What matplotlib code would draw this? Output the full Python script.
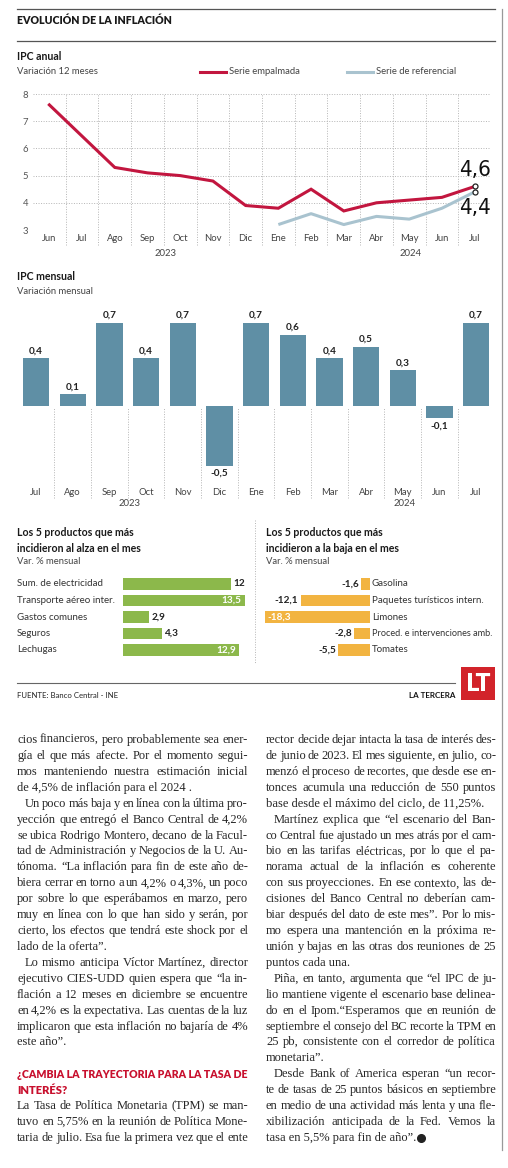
import matplotlib
matplotlib.use('Agg')
import matplotlib.pyplot as plt
import matplotlib.transforms as mtransforms
from matplotlib.patches import Rectangle
import numpy as np

# ---------------- data ----------------
months_line = ['Jun', 'Jul', 'Ago', 'Sep', 'Oct', 'Nov', 'Dic', 'Ene', 'Feb', 'Mar', 'Abr', 'May', 'Jun', 'Jul']
ipc_empalmada = [7.6, 6.45, 5.3, 5.1, 5.0, 4.8, 3.9, 3.8, 4.5, 3.7, 4.0, 4.1, 4.2, 4.6]
ipc_referencial = [np.nan] * 7 + [3.2, 3.6, 3.2, 3.5, 3.4, 3.8, 4.4]
line_years = ['2023', '2024']

months_bar = ['Jul', 'Ago', 'Sep', 'Oct', 'Nov', 'Dic', 'Ene', 'Feb', 'Mar', 'Abr', 'May', 'Jun', 'Jul']
ipc_mensual = [0.4, 0.1, 0.7, 0.4, 0.7, -0.5, 0.7, 0.6, 0.4, 0.5, 0.3, -0.1, 0.7]

alza_products = ['Sum. de electricidad', 'Transporte aéreo inter.', 'Gastos comunes', 'Seguros', 'Lechugas']
alza_values = [12, 13.5, 2.9, 4.3, 12.9]
baja_products = ['Gasolina', 'Paquetes turísticos intern.', 'Limones', 'Proced. e intervenciones amb.', 'Tomates']
baja_values = [-1.6, -12.1, -18.3, -2.8, -5.5]

# ---------------- style ----------------
SANS = ['Lato', 'DejaVu Sans']
SERIF = ['Liberation Serif', 'DejaVu Serif']
plt.rcParams['font.family'] = SANS
RED = '#c2163f'
REF = '#a9c3cf'
BLUE = '#5f8fa5'
GREEN = '#8cb84b'
ORANGE = '#f2b441'
TXT = '#262626'
GRID = '#b5b5b5'
DOT = (0, (1, 1.6))

W, H = 508, 1168
fig = plt.figure(figsize=(W / 100, H / 100), dpi=100)
fig.patch.set_facecolor('white')
R = fig.canvas.get_renderer()


def ax_px(x0, y0, x1, y1):
    return fig.add_axes([x0 / W, 1 - y1 / H, (x1 - x0) / W, (y1 - y0) / H])


def fmt(v):
    return ('%g' % v).replace('.', ',')


ov = fig.add_axes([0, 0, 1, 1], zorder=10)
ov.set_xlim(0, W)
ov.set_ylim(H, 0)
ov.axis('off')


def fit(x, y, s, width, fs, **kw):
    t = ov.text(x, y, s, fontsize=fs, **kw)
    w = t.get_window_extent(R).width
    t.set_fontsize(fs * width / w)
    return t


# ---------------- header ----------------
ov.plot([17, 495], [9, 9], color='#555', lw=0.9)
ov.plot([17, 495], [41, 41], color='#555', lw=0.9)
ov.plot([502, 502], [9, 1150], color='#999', lw=0.9)
fit(17, 20, 'EVOLUCIÓN DE LA INFLACIÓN', 156, 7.5, fontweight='heavy', color='#1a1a1a', va='center')

ov.text(17, 57, 'IPC anual', fontsize=7.6, fontweight='bold', color='#1a1a1a', va='center')
ov.text(17, 72, 'Variación 12 meses', fontsize=6.8, color='#444', va='center')
ov.plot([200, 226], [72, 72], color=RED, lw=2.2)
ov.text(229, 72, 'Serie empalmada', fontsize=6.8, color='#444', va='center')
ov.plot([347, 373], [72, 72], color=REF, lw=2.2)
ov.text(376, 72, 'Serie de referencial', fontsize=6.8, color='#444', va='center')

# ---------------- line chart ----------------
axL = ax_px(33, 94, 491, 230)
xl = np.arange(len(months_line))
axL.set_xlim(-0.5, len(months_line) - 0.5)
axL.set_ylim(3, 8)
for s in axL.spines.values():
    s.set_visible(False)
axL.set_yticks(range(3, 9))
axL.yaxis.grid(True, linestyle=DOT, color=GRID, lw=0.7)
axL.tick_params(axis='y', length=0, pad=3.5, labelsize=6.8, labelcolor='#555')
axL.set_xticks(xl)
axL.set_xticklabels(months_line)
axL.tick_params(axis='x', length=0, pad=3, labelsize=6.8, labelcolor='#444')
axL.vlines(np.arange(0.5, len(months_line) - 0.5, 1), 2.45, 8, colors=GRID, linestyles=DOT, lw=0.7, clip_on=False)
axL.plot(xl, ipc_referencial, color=REF, lw=2.2, solid_capstyle='butt')
axL.plot(xl, ipc_empalmada, color=RED, lw=2.2, solid_joinstyle='miter')
last = len(months_line) - 1
axL.plot([last, last], [ipc_empalmada[-1], ipc_referencial[-1]], 'o', ms=3.6, mfc='white', mec='#222', mew=0.9, zorder=5)
axL.annotate(fmt(ipc_empalmada[-1]), (last, ipc_empalmada[-1]), xytext=(0, 4.5), textcoords='offset points',
             ha='center', va='bottom', fontsize=16, family=['DejaVu Sans'], fontstretch='condensed',
             color='#111', annotation_clip=False)
axL.annotate(fmt(ipc_referencial[-1]), (last, ipc_referencial[-1]), xytext=(0, -4.5), textcoords='offset points',
             ha='center', va='top', fontsize=16, family=['DejaVu Sans'], fontstretch='condensed',
             color='#111', annotation_clip=False)
ov.text(166, 253, line_years[0], fontsize=6.8, color='#444', ha='center', va='center')
ov.text(411, 253, line_years[1], fontsize=6.8, color='#444', ha='center', va='center')

# ---------------- monthly bars ----------------
ov.text(17, 276, 'IPC mensual', fontsize=7.6, fontweight='bold', color='#1a1a1a', va='center')
ov.text(17, 291, 'Variación mensual', fontsize=6.8, color='#444', va='center')
PXU = 119.0
axB = ax_px(17.7, 406 - 0.7 * PXU, 17.7 + 13 * 36.67, 406 + 0.5 * PXU)
xb = np.arange(len(months_bar))
axB.set_xlim(-0.5, len(months_bar) - 0.5)
axB.set_ylim(-0.5, 0.7)
axB.axis('off')
axB.bar(xb, ipc_mensual, width=0.72, color=BLUE)
axB.vlines(np.arange(0.5, len(months_bar) - 0.5, 1), -0.77, -0.01, colors=GRID, linestyles=DOT, lw=0.7, clip_on=False)
for i, v in enumerate(ipc_mensual):
    if v >= 0:
        axB.annotate(fmt(v), (i, v), xytext=(0, 2), textcoords='offset points', ha='center', va='bottom',
                     fontsize=7.2, fontweight='bold', color='#222', annotation_clip=False)
    else:
        axB.annotate(fmt(v), (i, v), xytext=(0, -2.5), textcoords='offset points', ha='center', va='top',
                     fontsize=7.2, fontweight='bold', color='#222', annotation_clip=False)
    axB.text(i, -0.723, months_bar[i], ha='center', va='center', fontsize=6.8, color='#444', clip_on=False)
ov.text(130, 504, '2023', fontsize=6.8, color='#444', ha='center', va='center')
ov.text(405, 504, '2024', fontsize=6.8, color='#444', ha='center', va='center')

# ---------------- top 5 alza ----------------
for (x0, lines) in [(17, ['Los 5 productos que más', 'incidieron al alza en el mes']),
                    (266, ['Los 5 productos que más', 'incidieron a la baja en el mes'])]:
    ov.text(x0, 533, lines[0], fontsize=7.6, fontweight='bold', color='#1a1a1a', va='center')
    ov.text(x0, 548, lines[1], fontsize=7.6, fontweight='bold', color='#1a1a1a', va='center')
    ov.text(x0, 562, 'Var. % mensual', fontsize=6.8, color='#444', va='center')

ROW0, ROWD = 584, 16.5
top, bot = ROW0 - ROWD / 2, ROW0 + 4.5 * ROWD
axA = ax_px(123, top, 123 + 13.5 * 9, bot)
ya = np.arange(len(alza_values))
axA.set_xlim(0, 13.5)
axA.set_ylim(len(alza_values) - 0.5, -0.5)
axA.axis('off')
axA.barh(ya, alza_values, height=0.67, color=GREEN)
trA = mtransforms.blended_transform_factory(ov.transData, axA.transData)
for i, (p, v) in enumerate(zip(alza_products, alza_values)):
    ov.text(17, i, p, transform=trA, fontsize=7.0, color='#333', va='center', ha='left')
    if v > 12.5:
        axA.annotate(fmt(v), (v, i), xytext=(-2, 0), textcoords='offset points', ha='right', va='center',
                     fontsize=7.2, fontweight='bold', color='white')
    else:
        axA.annotate(fmt(v), (v, i), xytext=(1.5, 0), textcoords='offset points', ha='left', va='center',
                     fontsize=7.2, fontweight='bold', color='#222', annotation_clip=False)

ov.plot([255, 255], [520, 664], color=GRID, lw=0.7, linestyle=DOT)

# ---------------- top 5 baja ----------------
SC = 5.74
axR = ax_px(370 - 18.3 * SC, top, 370, bot)
axR.set_xlim(-18.3, 0)
axR.set_ylim(len(baja_values) - 0.5, -0.5)
axR.axis('off')
axR.barh(ya, baja_values, height=0.67, color=ORANGE)
trR = mtransforms.blended_transform_factory(ov.transData, axR.transData)
for i, (p, v) in enumerate(zip(baja_products, baja_values)):
    t = ov.text(372, i, p, transform=trR, fontsize=7.0, color='#333', va='center', ha='left')
    w = t.get_window_extent(R).width
    if 372 + w > 493:
        t.set_fontsize(7.0 * (493 - 372) / w)
    if v < -15:
        axR.annotate(fmt(v), (v, i), xytext=(2, 0), textcoords='offset points', ha='left', va='center',
                     fontsize=7.2, fontweight='bold', color='white')
    else:
        axR.annotate(fmt(v), (v, i), xytext=(-1.5, 0), textcoords='offset points', ha='right', va='center',
                     fontsize=7.2, fontweight='bold', color='#222', annotation_clip=False)

# ---------------- footer ----------------
ov.plot([17, 455], [683, 683], color='#666', lw=0.8)
ov.text(17, 696, 'FUENTE: Banco Central - INE', fontsize=5.6, color='#222', va='center')
ov.text(455, 696, 'LA TERCERA', fontsize=5.8, fontweight='bold', color='#111', va='center', ha='right')
ov.add_patch(Rectangle((461, 667), 34, 33, facecolor='#d2232a', edgecolor='none'))
ov.text(478, 684, 'LT', fontsize=17, fontweight='bold', color='white', ha='center', va='center',
        family=['DejaVu Sans'], fontstretch='condensed')

# ---------------- article ----------------
FS = 9.0
LH = 15.92
Y0 = 740


def draw_line(x0, x1, y, s, mode):
    indent = 8 if 'I' in mode else 0
    words = s.split(' ')
    if 'J' in mode and len(words) > 1:
        ts = [ov.text(0, y, w, fontsize=FS, family=SERIF, color=TXT, va='center', ha='left') for w in words]
        widths = [t.get_window_extent(R).width for t in ts]
        avail = x1 - x0 - indent
        gap = (avail - sum(widths)) / (len(words) - 1)
        if gap < 2.0:
            f = (avail - 2.0 * (len(words) - 1)) / sum(widths)
            for t in ts:
                t.set_fontsize(FS * f)
            widths = [w * f for w in widths]
            gap = 2.0
        xx = x0 + indent
        for t, w in zip(ts, widths):
            t.set_x(xx)
            xx += w + gap
        return x1
    t = ov.text(x0 + indent, y, s, fontsize=FS, family=SERIF, color=TXT, va='center', ha='left')
    return x0 + indent + t.get_window_extent(R).width


left_col = [
    ('cios financieros, pero probablemente sea ener-', 'J'),
    ('gía el que más afecte. Por el momento segui-', 'J'),
    ('mos manteniendo nuestra estimación inicial', 'J'),
    ('de 4,5% de inflación para el 2024 .', ''),
    ('Un poco más baja y en línea con la última pro-', 'IJ'),
    ('yección que entregó el Banco Central de 4,2%', 'J'),
    ('se ubica Rodrigo Montero, decano de la Facul-', 'J'),
    ('tad de Administración y Negocios de la U. Au-', 'J'),
    ('tónoma. “La inflación para fin de este año de-', 'J'),
    ('biera cerrar en torno a un 4,2% o 4,3%, un poco', 'J'),
    ('por sobre lo que esperábamos en marzo, pero', 'J'),
    ('muy en línea con lo que han sido y serán, por', 'J'),
    ('cierto, los efectos que tendrá este shock por el', 'J'),
    ('lado de la oferta”.', ''),
    ('Lo mismo anticipa Víctor Martínez, director', 'IJ'),
    ('ejecutivo CIES-UDD quien espera que “la in-', 'J'),
    ('flación a 12 meses en diciembre se encuentre', 'J'),
    ('en 4,2% es la expectativa. Las cuentas de la luz', 'J'),
    ('implicaron que esta inflación no bajaría de 4%', 'J'),
    ('este año”.', ''),
    (None, ''),
    (None, 'H'),
    (None, 'H'),
    ('La Tasa de Política Monetaria (TPM) se man-', 'J'),
    ('tuvo en 5,75% en la reunión de Política Mone-', 'J'),
    ('taria de julio. Esa fue la primera vez que el ente', 'J'),
]
right_col = [
    ('rector decide dejar intacta la tasa de interés des-', 'J'),
    ('de junio de 2023. El mes siguiente, en julio, co-', 'J'),
    ('menzó el proceso de recortes, que desde ese en-', 'J'),
    ('tonces acumula una reducción de 550 puntos', 'J'),
    ('base desde el máximo del ciclo, de 11,25%.', ''),
    ('Martínez explica que “el escenario del Ban-', 'IJ'),
    ('co Central fue ajustado un mes atrás por el cam-', 'J'),
    ('bio en las tarifas eléctricas, por lo que el pa-', 'J'),
    ('norama actual de la inflación es coherente', 'J'),
    ('con sus proyecciones. En ese contexto, las de-', 'J'),
    ('cisiones del Banco Central no deberían cam-', 'J'),
    ('biar después del dato de este mes”. Por lo mis-', 'J'),
    ('mo espera una mantención en la próxima re-', 'J'),
    ('unión y bajas en las otras dos reuniones de 25', 'J'),
    ('puntos cada una.', ''),
    ('Piña, en tanto, argumenta que “el IPC de ju-', 'IJ'),
    ('lio mantiene vigente el escenario base delinea-', 'J'),
    ('do en el Ipom.“Esperamos que en reunión de', 'J'),
    ('septiembre el consejo del BC recorte la TPM en', 'J'),
    ('25 pb, consistente con el corredor de política', 'J'),
    ('monetaria”.', ''),
    ('Desde Bank of America esperan “un recor-', 'IJ'),
    ('te de tasas de 25 puntos básicos en septiembre', 'J'),
    ('en medio de una actividad más lenta y una fle-', 'J'),
    ('xibilización anticipada de la Fed. Vemos la', 'J'),
    ('tasa en 5,5% para fin de año”.', ''),
]

for i, (s, m) in enumerate(left_col):
    if s:
        draw_line(17, 248, Y0 + i * LH, s, m)
fit(17, Y0 + 21 * LH, '¿CAMBIA LA TRAYECTORIA PARA LA TASA DE', 231, 8, fontweight='heavy', color='#c8102e', va='center')
ov.text(17, Y0 + 22 * LH, 'INTERÉS?', fontsize=8, fontweight='heavy', color='#c8102e', va='center')

end_x = 0
for i, (s, m) in enumerate(right_col):
    end_x = draw_line(266, 496, Y0 + i * LH, s, m)
yl = Y0 + (len(right_col) - 1) * LH
ov.plot([end_x + 5], [yl], 'o', ms=5.5, color='#222')

fig.savefig('out.png', dpi=100, facecolor='white')
